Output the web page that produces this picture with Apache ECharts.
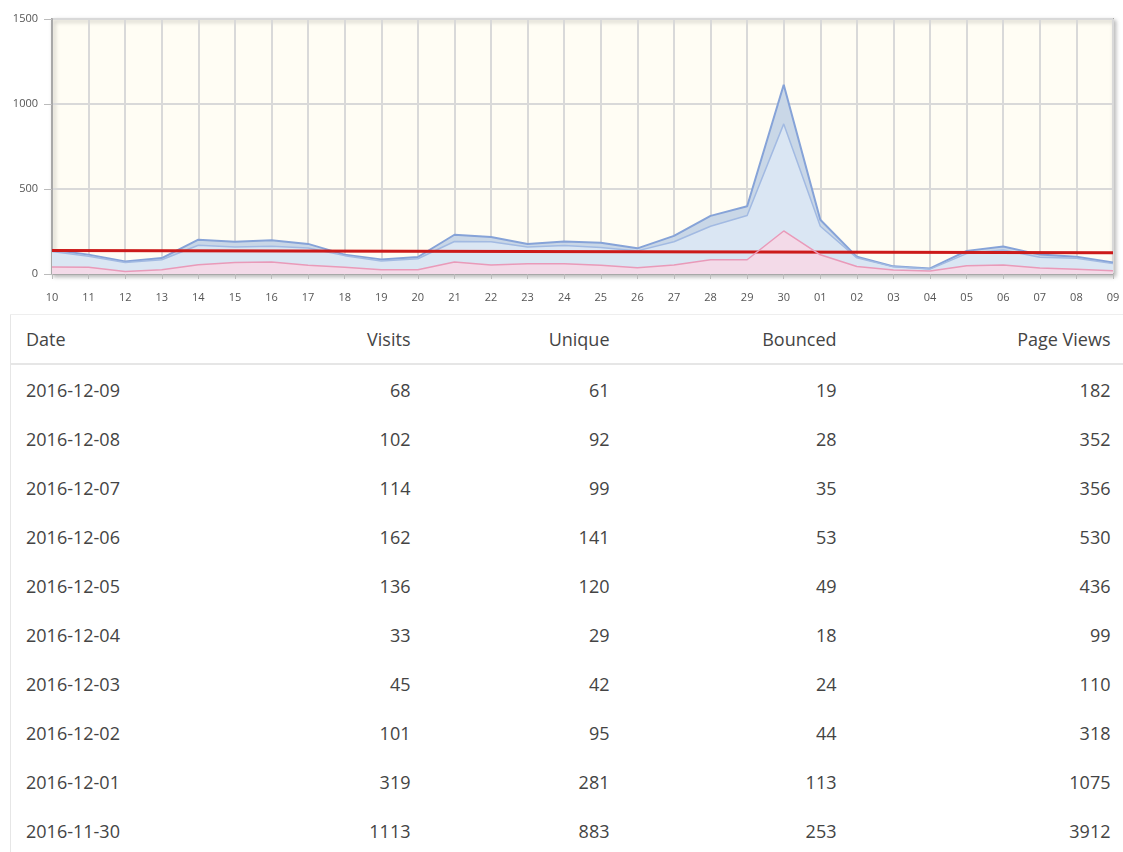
<!DOCTYPE html>
<html>
<head>
<meta charset="utf-8">
<script src="https://cdn.jsdelivr.net/npm/echarts@6/dist/echarts.min.js"></script>
<style>
  body { margin: 0; background: #fff; font-family: "Open Sans", sans-serif; }
  #chart { position: absolute; left: 0; top: 0; width: 1123px; height: 312px; }
  .stats {
    position: absolute; left: 10px; top: 314px; width: 1115px;
    border-collapse: collapse; table-layout: fixed;
    border-left: 1px solid #e6e6e6; border-top: 1px solid #eee;
    font-size: 18px; color: #444;
  }
  .stats th, .stats td { padding: 0 15px; white-space: nowrap; font-weight: normal; }
  .stats th { height: 48px; border-bottom: 2px solid #e6e6e6; }
  .stats td { height: 49px; }
  .stats .l { text-align: left; }
  .stats .r { text-align: right; }
</style>
</head>
<body>
<div id="chart"></div>
<table class="stats" id="stats">
  <colgroup>
    <col style="width:220px"><col style="width:195px"><col style="width:199px"><col style="width:227px"><col style="width:274px">
  </colgroup>
  <thead><tr id="head"></tr></thead>
  <tbody id="body"></tbody>
</table>
<script>
// x axis days (10 Nov .. 09 Dec)
const days = ["10", "11", "12", "13", "14", "15", "16", "17", "18", "19", "20", "21", "22", "23", "24",
  "25", "26", "27", "28", "29", "30", "01", "02", "03", "04", "05", "06", "07", "08", "09"];
const visits = [143, 114, 74, 94, 202, 189, 198, 177, 114, 86, 100, 231, 218, 176, 191,
  184, 151, 224, 342, 399, 1113, 319, 101, 45, 33, 136, 162, 114, 102, 68];
const unique = [133, 104, 67, 84, 169, 159, 163, 153, 108, 77, 90, 191, 190, 159, 167,
  156, 136, 190, 281, 344, 883, 281, 95, 42, 29, 120, 141, 99, 92, 61];
const bounced = [41, 39, 15, 25, 55, 67, 71, 51, 39, 25, 25, 71, 53, 60, 61,
  52, 37, 53, 84, 84, 253, 113, 44, 24, 18, 49, 53, 35, 28, 19];
// red trend line, start and end value
const trendStart = 138;
const trendEnd = 125;
const yTicks = [0, 500, 1000, 1500];

// table
const columns = ["Date", "Visits", "Unique", "Bounced", "Page Views"];
const tableDates = ["2016-12-09", "2016-12-08", "2016-12-07", "2016-12-06", "2016-12-05",
  "2016-12-04", "2016-12-03", "2016-12-02", "2016-12-01", "2016-11-30"];
const tableVisits = [68, 102, 114, 162, 136, 33, 45, 101, 319, 1113];
const tableUnique = [61, 92, 99, 141, 120, 29, 42, 95, 281, 883];
const tableBounced = [19, 28, 35, 53, 49, 18, 24, 44, 113, 253];
const tablePageViews = [182, 352, 356, 530, 436, 99, 110, 318, 1075, 3912];

// build table
let head = document.getElementById("head");
columns.forEach((c, i) => {
  let th = document.createElement("th");
  th.className = i === 0 ? "l" : "r";
  th.textContent = c;
  head.appendChild(th);
});
let body = document.getElementById("body");
tableDates.forEach((d, i) => {
  let tr = document.createElement("tr");
  [d, tableVisits[i], tableUnique[i], tableBounced[i], tablePageViews[i]].forEach((v, j) => {
    let td = document.createElement("td");
    td.className = j === 0 ? "l" : "r";
    td.textContent = v;
    tr.appendChild(td);
  });
  body.appendChild(tr);
});

let trend = days.map((d, i) => (i === 0 ? trendStart : i === days.length - 1 ? trendEnd : null));

let myChart = echarts.init(document.getElementById("chart"));
myChart.setOption({
  animation: false,
  grid: {
    left: 52,
    right: 10,
    top: 19,
    bottom: 38,
    show: true,
    backgroundColor: "#fffdf4",
    borderColor: "#a8a8a8",
    borderWidth: 2,
    shadowColor: "rgba(0,0,0,0.25)",
    shadowBlur: 4,
    shadowOffsetX: 2,
    shadowOffsetY: 2,
  },
  xAxis: {
    type: "category",
    boundaryGap: false,
    data: days,
    axisLine: { lineStyle: { color: "#a8a8a8", width: 2 } },
    axisTick: { show: true, length: 5, lineStyle: { color: "#bbb", width: 1 } },
    axisLabel: { color: "#555", fontSize: 11, margin: 18, fontFamily: "Open Sans", interval: 0 },
    splitLine: { show: true, lineStyle: { color: "#d9d9d9", width: 2 } },
  },
  yAxis: {
    type: "value",
    min: yTicks[0],
    max: yTicks[yTicks.length - 1],
    interval: 500,
    axisLine: { show: true, lineStyle: { color: "#a8a8a8", width: 2 } },
    axisTick: { show: true, length: 8, lineStyle: { color: "#bbb", width: 1 } },
    axisLabel: { color: "#555", fontSize: 11, margin: 14, fontFamily: "Open Sans", formatter: (v) => String(v) },
    splitLine: { show: true, lineStyle: { color: "#d9d9d9", width: 2 } },
  },
  series: [
    {
      name: "Visits",
      type: "line",
      data: visits,
      showSymbol: false,
      lineStyle: { color: "#86a3d8", width: 2 },
      areaStyle: { color: "#c9d7e7", opacity: 1 },
    },
    {
      name: "Unique",
      type: "line",
      data: unique,
      showSymbol: false,
      lineStyle: { color: "#a2bae2", width: 1.5 },
      areaStyle: { color: "#dae6f3", opacity: 1 },
    },
    {
      name: "Trend",
      type: "line",
      data: trend,
      connectNulls: true,
      showSymbol: false,
      lineStyle: { color: "#cc1a1a", width: 3 },
    },
    {
      name: "Bounced",
      type: "line",
      data: bounced,
      showSymbol: false,
      lineStyle: { color: "#e99ab9", width: 1.5 },
      areaStyle: { color: "#f5d9e7", opacity: 0.92 },
    },
  ],
});
</script>
</body>
</html>
